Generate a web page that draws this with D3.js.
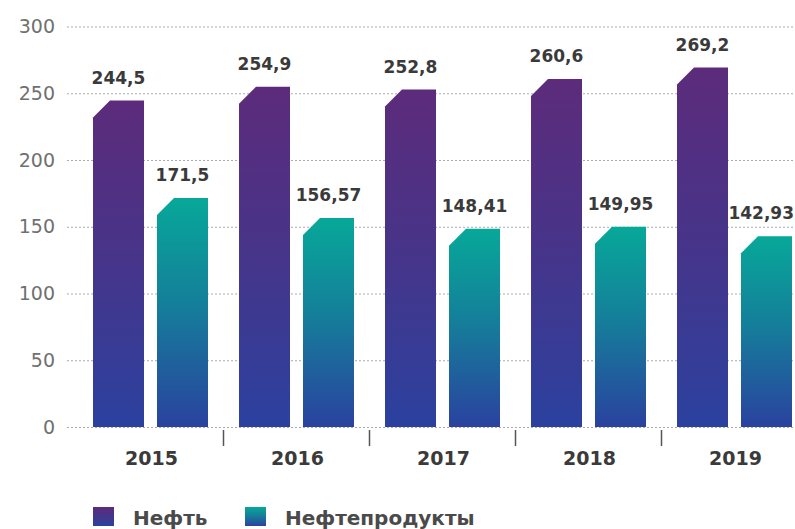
<!DOCTYPE html>
<html>
<head>
<meta charset="utf-8">
<script src="https://cdn.jsdelivr.net/npm/d3@7"></script>
<style>
  html, body { margin: 0; padding: 0; background: #fff; }
  svg { display: block; font-family: "DejaVu Sans", sans-serif; }
</style>
</head>
<body>
<svg id="chart" width="795" height="529"></svg>
<script>
// Export volumes by year (oil vs. petroleum products)
const years = ["2015", "2016", "2017", "2018", "2019"];
const seriesNames = ["Нефть", "Нефтепродукты"];
const oilValues = [244.5, 254.9, 252.8, 260.6, 269.2];
const productValues = [171.5, 156.57, 148.41, 149.95, 142.93];
const valueLabels = [
  ["244,5", "254,9", "252,8", "260,6", "269,2"],
  ["171,5", "156,57", "148,41", "149,95", "142,93"]
];
const yTicks = [0, 50, 100, 150, 200, 250, 300];

const seriesValues = [oilValues, productValues];
const gradIds = ["gradOil", "gradProd"];
const W = 795;

const svg = d3.select("#chart");
const defs = svg.append("defs");

function addGradient(id, stops) {
  const g = defs.append("linearGradient")
    .attr("id", id).attr("x1", 0).attr("y1", 0).attr("x2", 0).attr("y2", 1);
  stops.forEach(([o, c]) => g.append("stop").attr("offset", o).attr("stop-color", c));
}
addGradient("gradOil", [[0, "#5d2b7b"], [0.5, "#46358a"], [1, "#2b419f"]]);
addGradient("gradProd", [[0, "#07a899"], [0.45, "#14809a"], [1, "#2a429f"]]);

const y = d3.scaleLinear().domain([0, 300]).range([427, 26.5]);
const x0 = d3.scaleBand().domain(years).range([77.5, 807.5]).padding(0);
const x1 = d3.scaleBand().domain(seriesNames).range([15.5, 130.5]).paddingInner(0.203).paddingOuter(0);

// dotted horizontal grid
const grid = svg.append("g");
grid.selectAll("line").data(yTicks).join("line")
  .attr("x1", 67).attr("x2", W)
  .attr("y1", d => y(d) + 0.5).attr("y2", d => y(d) + 0.5)
  .attr("stroke", "#aaaaaa").attr("stroke-width", 1)
  .attr("stroke-dasharray", "2,2");

// y tick labels
const yAxis = d3.axisLeft(y).tickValues(yTicks).tickSize(0).tickPadding(0);
const yg = svg.append("g").attr("transform", "translate(55,0)").call(yAxis);
yg.select(".domain").remove();
yg.selectAll("text")
  .attr("font-family", "DejaVu Sans")
  .attr("font-size", 19).attr("fill", "#707070");

// bars with cut top-left corner
const cut = 17;
const groups = svg.append("g").selectAll("g").data(years).join("g")
  .attr("transform", d => `translate(${x0(d)},0)`);

groups.each(function(year, i) {
  const g = d3.select(this);
  seriesNames.forEach((s, si) => {
    const v = seriesValues[si][i];
    const bx = x1(s), bw = x1.bandwidth();
    const top = y(v), bottom = y(0);
    const p = d3.path();
    p.moveTo(bx, bottom);
    p.lineTo(bx, top + cut);
    p.lineTo(bx + cut, top);
    p.lineTo(bx + bw, top);
    p.lineTo(bx + bw, bottom);
    p.closePath();
    g.append("path").attr("d", p.toString()).attr("fill", `url(#${gradIds[si]})`);
    const label = g.append("text")
      .attr("x", bx + bw / 2).attr("y", top - 17)
      .attr("text-anchor", "middle")
      .attr("font-size", 17).attr("font-weight", "bold")
      .attr("fill", "#3a3a3a")
      .text(valueLabels[si][i]);
    // keep labels inside the drawing area
    const tw = label.node().getComputedTextLength();
    const absCenter = x0(year) + bx + bw / 2;
    const maxCenter = W - 1 - tw / 2;
    if (absCenter > maxCenter) label.attr("x", bx + bw / 2 - (absCenter - maxCenter));
  });
});

// x axis: separators between years and year labels
const sep = svg.append("g");
sep.selectAll("line").data(years.slice(1)).join("line")
  .attr("x1", d => x0(d)).attr("x2", d => x0(d))
  .attr("y1", 430).attr("y2", 446)
  .attr("stroke", "#555").attr("stroke-width", 1.5);

svg.append("g").selectAll("text").data(years).join("text")
  .attr("x", d => x0(d) + x0.bandwidth() / 2 + 1)
  .attr("y", 465)
  .attr("text-anchor", "middle")
  .attr("font-size", 19).attr("font-weight", "bold")
  .attr("fill", "#3a3a3a")
  .text(d => d);

// legend
const legend = svg.append("g");
const legendX = [93, 245];
seriesNames.forEach((s, si) => {
  legend.append("rect")
    .attr("x", legendX[si]).attr("y", 507).attr("width", 21).attr("height", 19)
    .attr("fill", `url(#${gradIds[si]})`);
  legend.append("text")
    .attr("x", legendX[si] + 40).attr("y", 525)
    .attr("font-size", 20).attr("font-weight", "bold")
    .attr("fill", "#4a4a4a")
    .text(s);
});
</script>
</body>
</html>
